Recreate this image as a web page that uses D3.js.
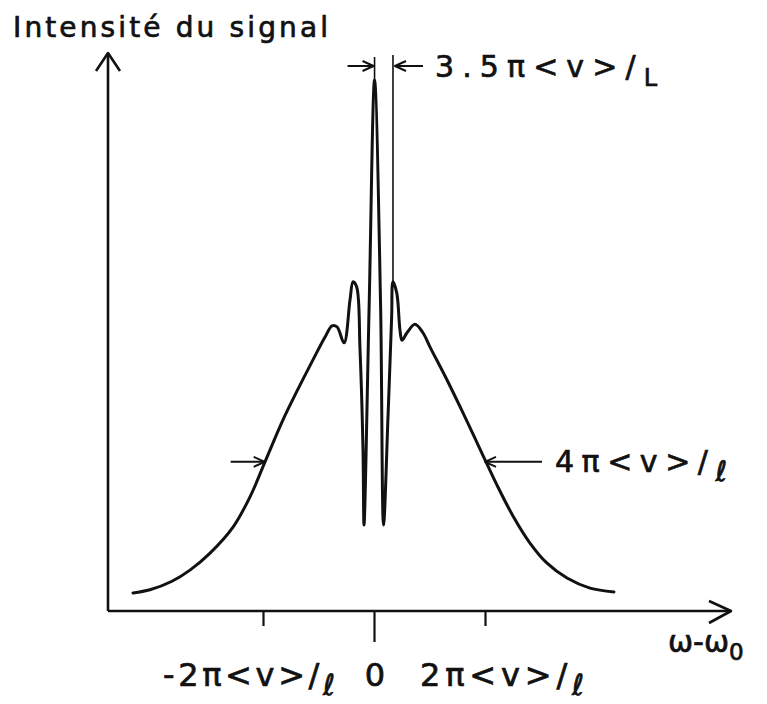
<!DOCTYPE html>
<html>
<head>
<meta charset="utf-8">
<script src="https://cdn.jsdelivr.net/npm/d3@7"></script>
<style>
  html, body { margin: 0; padding: 0; background: #fff; }
  svg text { font-family: "DejaVu Sans", sans-serif; fill: #111; stroke: #111; stroke-width: 0.7px; }
</style>
</head>
<body>
<svg id="chart" width="767" height="704"></svg>
<script>
// Detuning ω-ω0, in units of 2π<v>/ℓ
const detuning = [
  -2.171, -2.018, -1.820, -1.658, -1.477, -1.270, -1.117, -0.982, -0.820, -0.694, -0.550,
  -0.441, -0.378, -0.333, -0.270, -0.216, -0.189, -0.156, -0.126, -0.099, -0.090,
  -0.043, 0.005, 0.059, 0.086, 0.126, 0.159, 0.171, 0.205, 0.234, 0.252,
  0.297, 0.369, 0.441, 0.505, 0.658, 0.802, 0.955, 1.108, 1.252,
  1.405, 1.559, 1.739, 1.946, 2.162
];
// Signal intensity, normalised to the central peak
const intensity = [
  0.034, 0.040, 0.056, 0.077, 0.109, 0.158, 0.215, 0.281, 0.360, 0.414, 0.473,
  0.516, 0.537, 0.535, 0.505, 0.586, 0.620, 0.610, 0.492, 0.303, 0.162,
  0.582, 1.000, 0.580, 0.162, 0.365, 0.554, 0.620, 0.599, 0.529, 0.510,
  0.524, 0.540, 0.524, 0.497, 0.435, 0.373, 0.305, 0.237, 0.179,
  0.128, 0.090, 0.062, 0.043, 0.036
];
// Axis ticks and their labels (trailing ℓ is set as a lowered index)
const tickValues = [-1, 0, 1];
const tickLabels = ["-2π<v>/ℓ", "0", "2π<v>/ℓ"];
// Width markers: edges of the Doppler envelope at half height, and the fringe spacing
const halfEdges = [-0.985, 1.0];  // total width 4π<v>/ℓ
const halfLevel = 0.281;          // intensity where the width is measured
const fringePeakIdx = [22, 27];   // central peak and first side peak

const svg = d3.select("#chart");

const x = d3.scaleLinear().domain([-1, 1]).range([263, 485]);
const y = d3.scaleLinear().domain([0, 1]).range([611, 80]);

const ink = "#111";
const x0 = 108, xEnd = 731, yTop = 53, yBase = 611;

// Axes
svg.append("line").attr("x1", x0).attr("y1", yBase).attr("x2", xEnd).attr("y2", yBase)
  .attr("stroke", ink).attr("stroke-width", 2.6);
svg.append("path").attr("d", `M${xEnd - 22},${yBase - 10} L${xEnd},${yBase} L${xEnd - 22},${yBase + 12}`)
  .attr("fill", "none").attr("stroke", ink).attr("stroke-width", 2.6).attr("stroke-linejoin", "round");
svg.append("line").attr("x1", x0).attr("y1", yBase).attr("x2", x0).attr("y2", yTop)
  .attr("stroke", ink).attr("stroke-width", 2.6);
svg.append("path").attr("d", `M${x0 - 12},${yTop + 18} L${x0},${yTop} L${x0 + 12},${yTop + 18}`)
  .attr("fill", "none").attr("stroke", ink).attr("stroke-width", 2.6).attr("stroke-linejoin", "round");

// Ticks via d3 axis
const axisG = svg.append("g").attr("transform", `translate(0,${yBase})`)
  .call(d3.axisBottom(x).tickValues(tickValues).tickSize(15).tickSizeOuter(0).tickFormat(""));
axisG.select(".domain").remove();
axisG.selectAll(".tick line").attr("stroke", ink).attr("stroke-width", 2.2)
  .attr("y2", d => d === 0 ? 31 : 15);

// Tick labels
const labelPos = [
  { x: 163, anchor: "start", len: 172 },
  { x: 375, anchor: "middle", len: null },
  { x: 420, anchor: "start", len: 164 }
];
tickLabels.forEach((lab, i) => {
  const p = labelPos[i];
  const t = svg.append("text").attr("x", p.x).attr("y", 686)
    .attr("text-anchor", p.anchor).style("font-size", "32px");
  if (p.len) t.attr("textLength", p.len).attr("lengthAdjust", "spacing");
  if (lab.endsWith("ℓ")) {
    t.append("tspan").text(lab.slice(0, -1));
    t.append("tspan").attr("dy", 9).style("font-size", "29px").text("ℓ");
  } else {
    t.text(lab);
  }
});

// Axis titles
svg.append("text").attr("x", 13).attr("y", 37).style("font-size", "28px")
  .attr("textLength", 315).attr("lengthAdjust", "spacing").text("Intensité du signal");
const wt = svg.append("text").attr("x", 668).attr("y", 652).style("font-size", "30px");
wt.append("tspan").text("ω-ω");
wt.append("tspan").attr("dy", 8).style("font-size", "23px").text("0");

// Spectrum curve
const pts = detuning.map((d, i) => [d, intensity[i]]);
const line = d3.line().x(d => x(d[0])).y(d => y(d[1])).curve(d3.curveCatmullRom.alpha(0.5));
svg.append("path").datum(pts).attr("d", line)
  .attr("fill", "none").attr("stroke", ink).attr("stroke-width", 3)
  .attr("stroke-linejoin", "round").attr("stroke-linecap", "round");

// Helper: horizontal arrow ending at tip
function arrow(xFrom, xTip, yy) {
  const dir = Math.sign(xTip - xFrom);
  svg.append("line").attr("x1", xFrom).attr("y1", yy).attr("x2", xTip).attr("y2", yy)
    .attr("stroke", ink).attr("stroke-width", 2);
  svg.append("path")
    .attr("d", `M${xTip - dir * 11},${yy - 5} L${xTip},${yy} L${xTip - dir * 11},${yy + 5}`)
    .attr("fill", "none").attr("stroke", ink).attr("stroke-width", 2).attr("stroke-linejoin", "round");
}

// Envelope width marker
const yHalf = y(halfLevel);
arrow(x(halfEdges[0]) - 34, x(halfEdges[0]), yHalf);
arrow(x(halfEdges[1]) + 57, x(halfEdges[1]), yHalf);
const wl = svg.append("text").attr("x", 555).attr("y", yHalf + 10).style("font-size", "30px")
  .attr("textLength", 172).attr("lengthAdjust", "spacing");
wl.append("tspan").text("4π<v>/");
wl.append("tspan").attr("dy", 9).style("font-size", "28px").text("ℓ");

// Fringe spacing marker
const xa = x(detuning[fringePeakIdx[0]]), xb = x(detuning[fringePeakIdx[1]]);
const yMark = 66;
svg.append("line").attr("x1", xa).attr("y1", 57).attr("x2", xa).attr("y2", y(intensity[fringePeakIdx[0]]))
  .attr("stroke", ink).attr("stroke-width", 1.6);
svg.append("line").attr("x1", xb).attr("y1", 55).attr("x2", xb).attr("y2", y(intensity[fringePeakIdx[1]]))
  .attr("stroke", ink).attr("stroke-width", 1.6);
arrow(xa - 27, xa - 1, yMark);
arrow(xb + 30, xb + 2, yMark);
const fl = svg.append("text").attr("x", 435).attr("y", 77).style("font-size", "30px")
  .attr("textLength", 222).attr("lengthAdjust", "spacing");
fl.append("tspan").text("3.5π<v>/");
fl.append("tspan").attr("dy", 9).style("font-size", "24px").text("L");
</script>
</body>
</html>
